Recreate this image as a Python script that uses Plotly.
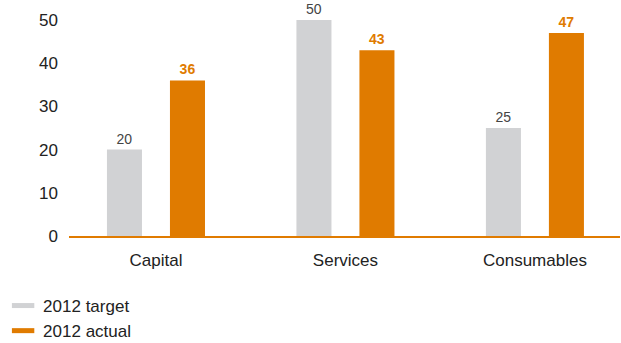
import plotly.graph_objects as go

categories = ["Capital", "Services", "Consumables"]
target_2012 = [20, 50, 25]
actual_2012 = [36, 43, 47]
y_ticks = [0, 10, 20, 30, 40, 50]

GREY = "#D1D2D4"
ORANGE = "#E07B00"
FONT = "Liberation Sans"

fig = go.Figure()
fig.add_trace(go.Bar(
    x=categories, y=target_2012, name="2012 target",
    marker_color=GREY, marker_line_width=0,
    text=target_2012, textposition="outside", cliponaxis=False,
    textfont=dict(family=FONT, size=14, color="#444444"),
    showlegend=False,
))
fig.add_trace(go.Bar(
    x=categories, y=actual_2012, name="2012 actual",
    marker_color=ORANGE, marker_line_width=0,
    text=actual_2012, textposition="outside", cliponaxis=False,
    textfont=dict(family=FONT, size=14, color=ORANGE, weight="bold"),
    showlegend=False,
))

# legend entries drawn as short thick dashes
for name, col in [("2012 target", GREY), ("2012 actual", ORANGE)]:
    fig.add_trace(go.Scatter(
        x=[None], y=[None], mode="markers", name=name,
        marker=dict(symbol="line-ew", size=16, color=col, line=dict(width=5, color=col)),
    ))

fig.update_layout(
    width=621, height=343,
    paper_bgcolor="white", plot_bgcolor="white",
    font=dict(family=FONT, size=17, color="#222222"),
    margin=dict(l=69, r=1, t=20, b=107, autoexpand=False),
    barmode="group", bargap=0.335, bargroupgap=0.444,
    xaxis=dict(
        range=[-0.459, 2.449], showgrid=False, showline=True,
        linecolor=ORANGE, linewidth=1.5, ticks="", ticklabelstandoff=8,
        tickfont=dict(size=17),
    ),
    yaxis=dict(
        range=[0, 50], tickvals=y_ticks, showgrid=False, zeroline=False,
        showline=False, ticklabelstandoff=10, tickfont=dict(size=17),
    ),
    legend=dict(
        xref="container", yref="container", x=0.005, y=1 - 288 / 343,
        xanchor="left", yanchor="top", font=dict(size=17),
        tracegroupgap=0, bgcolor="rgba(0,0,0,0)",
        itemwidth=30,
    ),
)

# drop the default 8px page margin so the chart sits flush at the top-left
fig.write_html("out.html", config=dict(displayModeBar=False),
               post_script="document.body.style.margin='0';")
